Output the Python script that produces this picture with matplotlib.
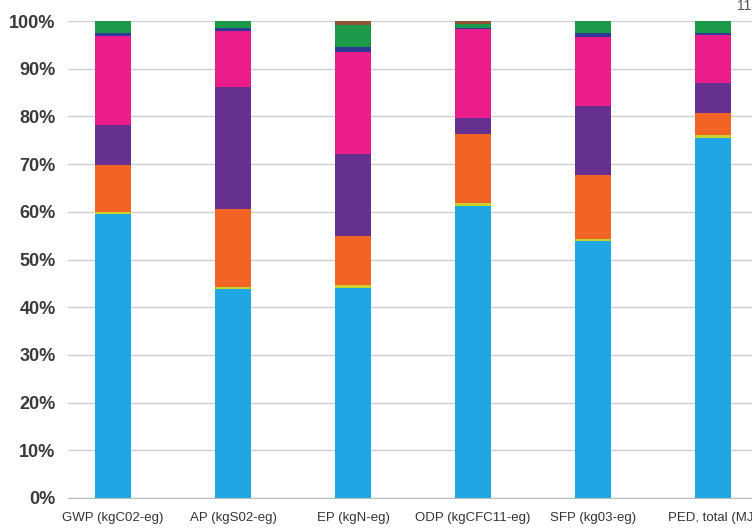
import numpy as np
import matplotlib
matplotlib.use('Agg')
from matplotlib import pyplot

categories = ['GWP (kgC02-eg)', 'AP (kgS02-eg)', 'EP (kgN-eg)',
              'ODP (kgCFC11-eg)', 'SFP (kg03-eg)', 'PED, total (MJ)']

# stacked shares in %, bottom to top
sky = [59.5, 43.8, 44.0, 61.3, 53.8, 75.5]
lime = [0.5, 0.5, 0.6, 0.6, 0.5, 0.6]
orange = [9.8, 16.3, 10.4, 14.4, 13.4, 4.6]
purple = [8.5, 25.6, 17.1, 3.4, 14.5, 6.3]
pink = [18.5, 11.6, 21.4, 18.6, 14.4, 10.1]
navy = [0.7, 0.7, 1.0, 0.3, 0.9, 0.4]
green = [2.5, 1.5, 4.7, 0.8, 2.5, 2.5]
brown = [0.0, 0.0, 0.8, 0.6, 0.0, 0.0]

series = [sky, lime, orange, purple, pink, navy, green, brown]
colors = ['#20a6e2', '#c9d22c', '#f26424', '#65308f', '#ea1d8a',
          '#2f3a96', '#1b9a4a', '#8a5530']

FONT = 'Liberation Sans'

fig = pyplot.figure(figsize=(7.52, 5.28), dpi=100)
ax = fig.add_axes([68 / 752, 1 - 498 / 528, 1 - 68 / 752, (498 - 21) / 528])

x = np.arange(len(categories))
bottom = np.zeros(len(categories))
for vals, c in zip(series, colors):
    ax.bar(x, vals, width=0.3, bottom=bottom, color=c, zorder=3, linewidth=0)
    bottom += np.array(vals)

ax.set_xlim(-0.375, 5.325)
ax.set_ylim(0, 100)
ax.set_yticks(np.arange(0, 101, 10))
ax.set_yticklabels(['{}%'.format(v) for v in range(0, 101, 10)],
                   fontsize=13, fontfamily=FONT, fontweight='bold', color='#3a3a3a')
ax.set_xticks(x)
ax.set_xticklabels(categories, fontsize=9.5, fontfamily=FONT, color='#333333')
ax.tick_params(axis='y', length=0, pad=9)
ax.tick_params(axis='x', length=0, pad=10)
ax.yaxis.grid(True, color='#cfcfcf', linewidth=1, zorder=0)
for s in ['left', 'right', 'top']:
    ax.spines[s].set_visible(False)
ax.spines['bottom'].set_color('#bbbbbb')

# page number cut off at top-right
fig.text(737 / 752, 1 - 6 / 528, '113', fontsize=10, fontfamily=FONT,
         color='#555555', ha='left', va='center')

pyplot.savefig('out.png', dpi=100)
